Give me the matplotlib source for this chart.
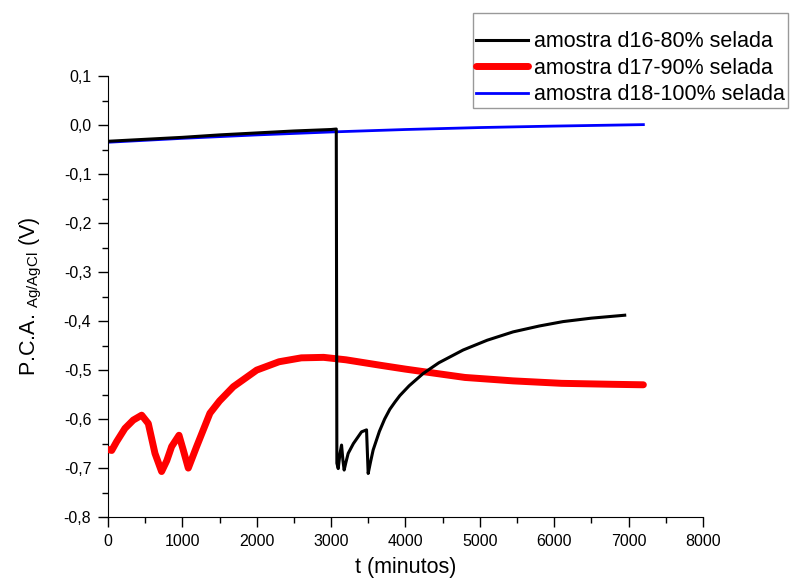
import matplotlib
matplotlib.use("Agg")
import matplotlib.pyplot as plt
from matplotlib.ticker import MultipleLocator, FuncFormatter

plt.rcParams['font.family'] = ['Liberation Sans', 'DejaVu Sans']
plt.rcParams['mathtext.fontset'] = 'custom'
plt.rcParams['mathtext.rm'] = 'Liberation Sans'
plt.rcParams['mathtext.it'] = 'Liberation Sans:italic'

# amostra d16-80% selada (black)
t_d16 = [0, 500, 1000, 1500, 2000, 2500, 3000, 3070, 3078, 3096, 3120, 3141, 3160, 3176,
         3200, 3230, 3300, 3410, 3477, 3499, 3530, 3566, 3650, 3720, 3790, 3860, 3925,
         4050, 4238, 4450, 4776, 5100, 5448, 5800, 6120, 6500, 6949]
v_d16 = [-0.033, -0.029, -0.025, -0.020, -0.016, -0.012, -0.009, -0.008, -0.690, -0.701,
         -0.670, -0.653, -0.685, -0.704, -0.688, -0.670, -0.650, -0.626, -0.622, -0.711,
         -0.688, -0.663, -0.625, -0.600, -0.580, -0.565, -0.552, -0.532, -0.507, -0.485,
         -0.459, -0.439, -0.422, -0.410, -0.401, -0.394, -0.388]

# amostra d17-90% selada (red)
t_d17 = [0, 50, 116, 228, 340, 453, 542, 632, 721, 790, 856, 955, 1012, 1080, 1192, 1371,
         1500, 1685, 2000, 2300, 2600, 2900, 3200, 3656, 4000, 4328, 4800, 5448, 6100,
         6788, 7200]
v_d17 = [-0.662, -0.664, -0.646, -0.619, -0.602, -0.592, -0.609, -0.670, -0.707, -0.685,
         -0.656, -0.633, -0.663, -0.700, -0.656, -0.588, -0.563, -0.534, -0.500, -0.483,
         -0.475, -0.474, -0.479, -0.490, -0.498, -0.505, -0.515, -0.522, -0.527, -0.529,
         -0.530]

# amostra d18-100% selada (blue)
t_d18 = [0, 1000, 2000, 3000, 4000, 5000, 6000, 7200]
v_d18 = [-0.035, -0.027, -0.020, -0.014, -0.009, -0.005, -0.002, 0.001]

labels = ["amostra d16-80% selada", "amostra d17-90% selada", "amostra d18-100% selada"]

fig = plt.figure(figsize=(7.9, 5.81), dpi=100)
ax = fig.add_axes([0.1367, 0.110, 0.753, 0.759])

ax.plot(t_d18, v_d18, color='blue', linewidth=2.0, label=labels[2], zorder=2)
ax.plot(t_d17, v_d17, color='red', linewidth=5.0, label=labels[1], zorder=3,
        solid_joinstyle='round', solid_capstyle='round')
ax.plot(t_d16, v_d16, color='black', linewidth=2.2, label=labels[0], zorder=4)

ax.set_xlim(0, 8000)
ax.set_ylim(-0.8, 0.1)
ax.xaxis.set_major_locator(MultipleLocator(1000))
ax.xaxis.set_minor_locator(MultipleLocator(500))
ax.yaxis.set_major_locator(MultipleLocator(0.1))
ax.yaxis.set_minor_locator(MultipleLocator(0.05))
ax.yaxis.set_major_formatter(FuncFormatter(lambda v, p: f"{v:.1f}".replace('.', ',').replace('-0,0', '0,0')))

ax.spines['top'].set_visible(False)
ax.spines['right'].set_visible(False)
ax.tick_params(which='major', direction='out', length=7, width=1, labelsize=11.5, pad=5)
ax.tick_params(which='minor', direction='out', length=4, width=1)

ax.set_xlabel("t (minutos)", fontsize=15.5, labelpad=6)
ax.set_ylabel(r"P.C.A. $_{\mathrm{Ag/AgCl}}$ (V)", fontsize=15.5, labelpad=14)

handles, labs = ax.get_legend_handles_labels()
order = [2, 1, 0]
leg = fig.legend([handles[i] for i in order], [labs[i] for i in order],
                 loc='upper right', bbox_to_anchor=(0.997, 0.977), fontsize=15.5,
                 title=" ", title_fontsize=7, frameon=True, fancybox=False,
                 edgecolor='gray', handlelength=2.4, handletextpad=0.3,
                 labelspacing=0.25, borderpad=0.12, borderaxespad=0)
leg.get_frame().set_linewidth(1.0)

fig.savefig("out.png", dpi=100)
